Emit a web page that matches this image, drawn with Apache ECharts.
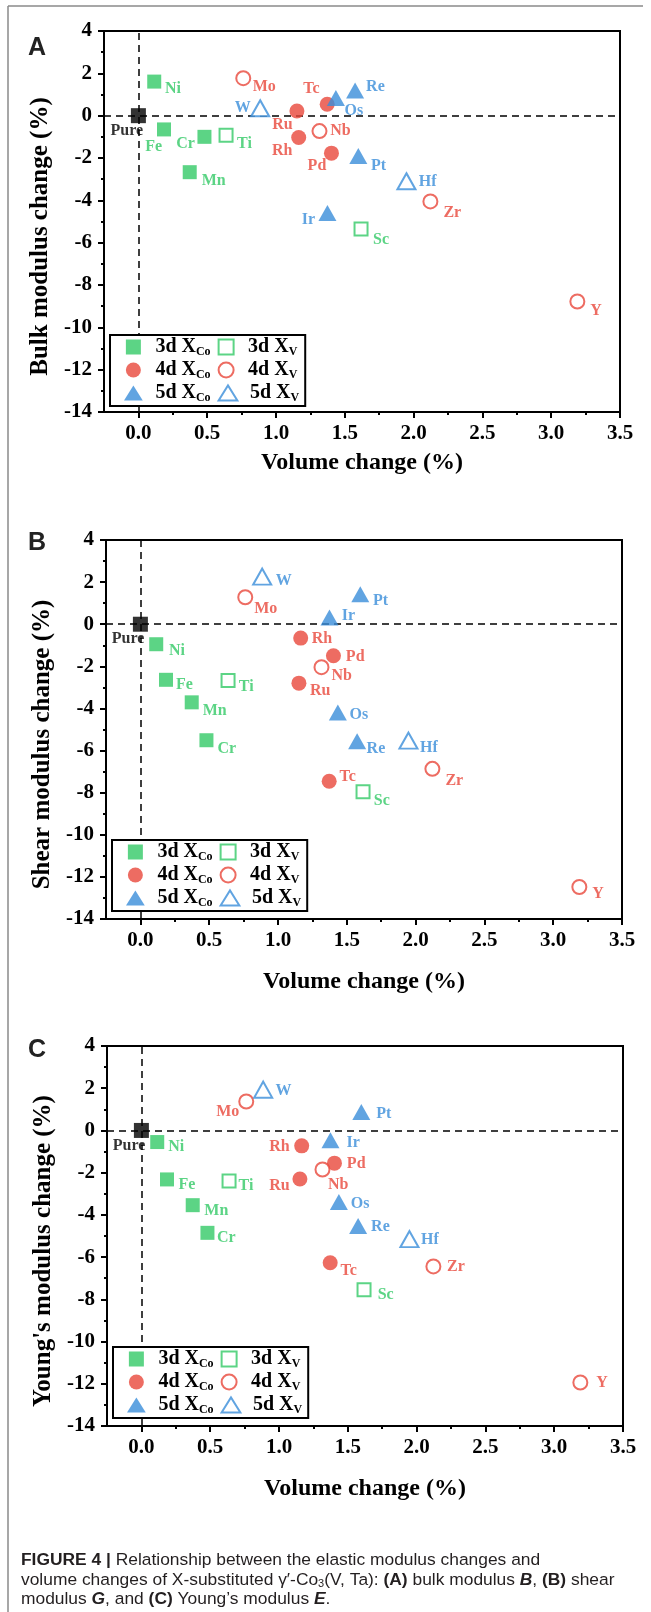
<!DOCTYPE html>
<html><head><meta charset="utf-8">
<script src="https://cdn.jsdelivr.net/npm/echarts@6/dist/echarts.min.js"></script>
<style>html,body{margin:0;padding:0;background:#fff}#c{width:651px;height:1612px}</style>
</head><body><div id="c"></div>
<script>
// ---------------- DATA ----------------
const elements        = ['Ni','Fe','Mn','Cr','Ti','Sc','Ru','Rh','Tc','Pd','Mo','Nb','Zr','Y','Os','Re','Pt','Ir','W','Hf'];
const elementGroup    = ['3d XCo','3d XCo','3d XCo','3d XCo','3d XV','3d XV','4d XCo','4d XCo','4d XCo','4d XCo','4d XV','4d XV','4d XV','4d XV','5d XCo','5d XCo','5d XCo','5d XCo','5d XV','5d XV'];
const volumeChange    = [0.115,0.186,0.373,0.480,0.637,1.618,1.152,1.165,1.372,1.403,0.762,1.316,2.122,3.190,1.435,1.575,1.598,1.374,0.885,1.948];
const bulkChange      = [1.61,-0.65,-2.67,-1.00,-0.92,-5.35,0.22,-1.03,0.54,-1.77,1.77,-0.73,-4.05,-8.78,0.84,1.19,-1.90,-4.60,0.35,-3.10];
const shearChange     = [-0.95,-2.64,-3.71,-5.51,-2.67,-7.96,-2.80,-0.66,-7.46,-1.50,1.28,-2.04,-6.87,-12.48,-4.19,-5.56,1.42,0.32,2.26,-5.53];
const youngChange     = [-0.55,-2.32,-3.54,-4.85,-2.40,-7.55,-2.30,-0.73,-6.27,-1.55,1.37,-1.85,-6.44,-11.94,-3.39,-4.53,0.87,-0.47,1.93,-5.15];
const pureVolume      = 0;
const pureChange      = 0;
const groupNames      = ['3d XCo','3d XV','4d XCo','4d XV','5d XCo','5d XV'];
const xTickValues     = [0,0.5,1,1.5,2,2.5,3,3.5];
const xMinorTickValues= [0.25,0.75,1.25,1.75,2.25,2.75,3.25];
const yAxisTitles     = ['Bulk modulus change (%)','Shear modulus change (%)',"Young's modulus change (%)"];
const xAxisTitle      = 'Volume change (%)';
const panelLetters    = ['A','B','C'];

// ---------------- STYLE / LAYOUT ----------------
const GREEN='#33C966', RED='#E8473B', BLUE='#3A8DDA';
const SERIF='"Liberation Serif","Times New Roman",serif';
const SANS='"Liberation Sans",Arial,sans-serif';
const SQ='path://M0,0L10,0L10,10L0,10Z';
const CI='path://M0,10A10,10,0,1,1,20,10A10,10,0,1,1,0,10Z';
const TR='path://M0,16L10,0L20,16Z';
const groupStyle = {
  '3d XCo':{symbol:'rect',size:14,color:GREEN,filled:true, icon:SQ},
  '3d XV': {symbol:'rect',size:13,color:GREEN,filled:false,icon:SQ},
  '4d XCo':{symbol:'circle',size:15,color:RED,filled:true, icon:CI},
  '4d XV': {symbol:'circle',size:14,color:RED,filled:false,icon:CI},
  '5d XCo':{symbol:'triangle',size:[18,16],color:BLUE,filled:true, icon:TR},
  '5d XV': {symbol:'triangle',size:[18,16],color:BLUE,filled:false,icon:TR}
};
const panels = [
  {grid:{left:104,top:31,width:516,height:381}, legendTop:335, letterY:48, xNameGap:39,
   labels:{Pure:[-11.6,15,'center'],Ni:[10.7,7.7,'left'],Fe:[-10.3,17.3,'center'],Cr:[-9.5,7.3,'right'],Ti:[11,9,'left'],
     Mn:[12,9,'left'],Sc:[12,11,'left'],Mo:[9.5,8.3,'left'],Tc:[-15.7,-15,'center'],Ru:[-14.5,14,'center'],Rh:[-16.5,13.3,'center'],
     Nb:[10.7,0,'left'],Pd:[-14.5,13,'center'],W:[-9.5,0,'right'],Os:[8.7,12.7,'left'],Re:[11,-4,'left'],Pt:[12.8,10,'left'],
     Hf:[12.4,0.7,'left'],Ir:[-12.4,7.3,'right'],Zr:[13,11.3,'left'],Y:[13,9.3,'left']}},
  {grid:{left:106,top:540,width:516,height:379}, legendTop:840, letterY:543, xNameGap:51,
   labels:{Pure:[-12.4,14.7,'center'],Ni:[12.8,6.3,'left'],Fe:[10,5,'left'],Ti:[10.7,6.7,'left'],Mn:[11,8.3,'left'],Cr:[11,8.3,'left'],
     Mo:[9,11.7,'left'],W:[13.6,4,'left'],Pt:[12.8,6.3,'left'],Ir:[12.4,-1.7,'left'],Rh:[11,1,'left'],Pd:[12.4,1.3,'left'],
     Nb:[10,8.3,'left'],Ru:[11,7.7,'left'],Os:[11.6,2.3,'left'],Re:[9.5,7.3,'left'],Hf:[11.6,7.3,'left'],Zr:[13,11.7,'left'],
     Tc:[10.3,-4,'left'],Sc:[10.7,8.7,'left'],Y:[13,6.7,'left']}},
  {grid:{left:107,top:1046,width:516,height:380}, legendTop:1347, letterY:1050, xNameGap:51,
   labels:{Pure:[-12.4,15,'center'],Ni:[11,5,'left'],Fe:[11.6,5.3,'left'],Ti:[9.5,5,'left'],Mn:[11.6,5.3,'left'],Cr:[9.5,5.3,'left'],
     Mo:[-7,10.7,'right'],W:[12.4,0.7,'left'],Pt:[15,1.7,'left'],Ir:[16,2.7,'left'],Rh:[-12,1.3,'right'],Pd:[12.4,0.7,'left'],
     Nb:[15.7,15.3,'center'],Ru:[-10.3,7,'right'],Os:[12,1.7,'left'],Re:[13,1,'left'],Hf:[11.6,0.7,'left'],Tc:[10.3,8.3,'left'],
     Zr:[13.6,0.7,'left'],Sc:[13.6,5,'left'],Y:[16,0.7,'left']}}
];
const panelValues = [bulkChange, shearChange, youngChange];

function lab(p, name, color){
  const l = panels[p].labels[name] || [10,0,'left'];
  return {show:true, position:'inside', offset:[l[0],l[1]], align:l[2], verticalAlign:'middle',
    formatter:'{b}', color:color, fontSize:16, fontWeight:'bold', fontFamily:SERIF, textBorderWidth:0};
}

const grid=[], xAxis=[], yAxis=[], series=[], legend=[], graphic=[];
panels.forEach((pn, p) => {
  grid.push(Object.assign({show:true, borderColor:'#000', borderWidth:2, backgroundColor:'transparent'}, pn.grid));
  const axisFont = {fontSize:21, fontWeight:'bold', fontFamily:SERIF, color:'#000'};
  xAxis.push({type:'value', gridIndex:p, min:-0.25, max:3.5, position:'bottom',
    axisLine:{onZero:false, lineStyle:{color:'#000', width:2}},
    axisTick:{show:true, customValues:xTickValues, length:6, lineStyle:{color:'#000', width:2}},
    axisLabel:Object.assign({customValues:xTickValues, margin:11, formatter:v=>v.toFixed(1)}, axisFont),
    splitLine:{show:false},
    name:xAxisTitle, nameLocation:'middle', nameGap:pn.xNameGap,
    nameTextStyle:{fontSize:24, fontWeight:'bold', fontFamily:SERIF, color:'#000'}});
  xAxis.push({type:'value', gridIndex:p, min:-0.25, max:3.5, position:'bottom',
    axisLine:{show:false, onZero:false},
    axisTick:{show:true, customValues:xMinorTickValues, length:3, lineStyle:{color:'#000', width:2}},
    axisLabel:{show:false}, splitLine:{show:false}});
  yAxis.push({type:'value', gridIndex:p, min:-14, max:4, interval:2, position:'left',
    axisLine:{onZero:false, lineStyle:{color:'#000', width:2}},
    axisTick:{show:true, length:6, lineStyle:{color:'#000', width:2}},
    minorTick:{show:true, splitNumber:2, length:3, lineStyle:{color:'#000', width:2}},
    axisLabel:Object.assign({margin:12}, axisFont),
    splitLine:{show:false},
    name:yAxisTitles[p], nameLocation:'middle', nameGap:49,
    nameTextStyle:{fontSize:25, fontWeight:'bold', fontFamily:SERIF, color:'#000', padding:[0,30,0,0]}});

  const vals = panelValues[p];
  // dashed reference lines (below the marks)
  series.push({type:'scatter', name:'ref', xAxisIndex:p*2, yAxisIndex:p, z:1, data:[], silent:true,
    markLine:{silent:true, z:1, symbol:['none','none'], label:{show:false}, animation:false,
      lineStyle:{color:'#000', type:[7,5], width:1.5}, emphasis:{disabled:true},
      data:[{xAxis:0},{yAxis:0}]}});
  series.push({type:'scatter', name:'Pure', xAxisIndex:p*2, yAxisIndex:p, symbol:'rect', symbolSize:15,
    itemStyle:{color:'#000'}, z:3,
    data:[{name:'Pure', value:[pureVolume, pureChange], label:lab(p,'Pure','#000')}]});
  groupNames.forEach(g => {
    const st = groupStyle[g];
    const data = [];
    elements.forEach((el,i) => {
      if (elementGroup[i] === g) data.push({name:el, value:[volumeChange[i], vals[i]], label:lab(p, el, st.color)});
    });
    series.push({type:'scatter', name:g, xAxisIndex:p*2, yAxisIndex:p, symbol:st.symbol, symbolSize:st.size, z:3,
      itemStyle: st.filled ? {color:st.color} : {color:'#fff', borderColor:st.color, borderWidth:2},
      data});
  });
  legend.push({show:true, left:pn.grid.left+6, top:pn.legendTop, orient:'horizontal', width:240,
    padding:[2,1,2,14], itemGap:2, itemWidth:34, itemHeight:15, backgroundColor:'#fff', borderColor:'#000', borderWidth:2,
    selectedMode:false,
    data:groupNames.map(g => ({name:g, icon:groupStyle[g].icon})),
    formatter: name => { const m = name.match(/^(\dd) X(Co|V)$/); return '{t|' + m[1] + ' X}{s|' + m[2] + '}'; },
    textStyle:{color:'#000', fontFamily:SERIF, fontWeight:'bold', fontSize:20,
      rich:{t:{fontSize:20, fontWeight:'bold', fontFamily:SERIF, lineHeight:22, color:'#000'},
            s:{fontSize:12, fontWeight:'bold', fontFamily:SERIF, lineHeight:9, verticalAlign:'bottom', color:'#000', padding:[0,5,0,0]}}}});
  graphic.push({type:'text', left:28, top:pn.letterY-12, style:{text:panelLetters[p], fontSize:25, fontWeight:'bold', fontFamily:SANS, fill:'#222'}});
});

// frame & caption
graphic.push({type:'line', shape:{x1:8, y1:6, x2:8, y2:1612}, style:{stroke:'#8a8a8a', lineWidth:1.5}});
graphic.push({type:'line', shape:{x1:8, y1:6, x2:643, y2:6}, style:{stroke:'#8a8a8a', lineWidth:1.5}});
const CAPF = 17.4;
const capStyle = {fontSize:CAPF, fontFamily:SANS, fill:'#231f20', lineHeight:19,
  rich:{
    r:{fontSize:CAPF, fontFamily:SANS, lineHeight:19, fill:'#231f20'},
    b:{fontSize:CAPF, fontFamily:SANS, fontWeight:'bold', lineHeight:19, fill:'#231f20'},
    bi:{fontSize:CAPF, fontFamily:SANS, fontWeight:'bold', fontStyle:'italic', lineHeight:19, fill:'#231f20'},
    sub:{fontSize:11, fontFamily:SANS, verticalAlign:'bottom', lineHeight:13, fill:'#231f20'}}};
const captionLines = [
  '{b|FIGURE 4 |}{r| Relationship between the elastic modulus changes and}',
  '{r|volume changes of X-substituted \u03B3\u2032-Co}{sub|3}{r|(V, Ta): }{b|(A)}{r| bulk modulus }{bi|B}{r|, }{b|(B)}{r| shear}',
  '{r|modulus }{bi|G}{r|, and }{b|(C)}{r| Young\u2019s modulus }{bi|E}{r|.}'
];
captionLines.forEach((t,i) => graphic.push({type:'text', left:21, top:1551 + i*19.5, style:Object.assign({text:t}, capStyle)}));

const chart = echarts.init(document.getElementById('c'), null, {renderer:'canvas'});
chart.setOption({animation:false, backgroundColor:'#fff', grid, xAxis, yAxis, series, legend, graphic});
</script></body></html>
